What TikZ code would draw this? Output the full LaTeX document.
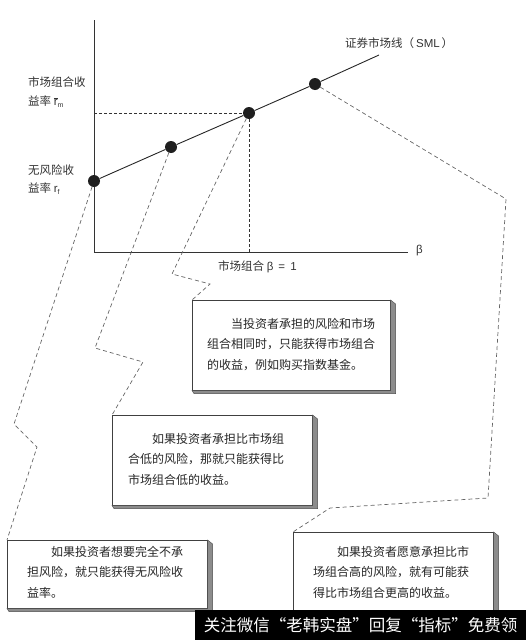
\documentclass[tikz,border=0pt]{standalone}
\usepackage{fontspec}
\setmainfont{Noto Sans CJK SC}
\newfontfamily\lat{Liberation Sans}
\usetikzlibrary{calc}
\begin{document}
\begin{tikzpicture}[x=1pt,y=-1pt,
  axisline/.style={draw=black!80, line width=0.9pt},
  smlline/.style={draw=black!85, line width=0.9pt},
  guide/.style={draw=black!80, line width=0.8pt, dash pattern=on 3pt off 2pt},
  conn/.style={draw=black!60, line width=0.7pt, dash pattern=on 4pt off 3pt},
  dotnode/.style={circle, fill=black!88, inner sep=0pt, minimum size=12pt},
  lbl/.style={font=\fontsize{11.5}{14}\selectfont, text=black!80, inner sep=0pt},
  cbox/.style={draw=black!75, fill=white, line width=0.6pt, anchor=north west, inner sep=0pt},
  cside/.style={fill=black!45, draw=black!70, line width=0.4pt},
  ctext/.style={anchor=north west, align=left, inner sep=0pt, text=black!85,
                font=\fontsize{12}{20.5}\selectfont},
]
\useasboundingbox (0,0) rectangle (526,640);

% axes
\coordinate (ytop) at (94,20);
\coordinate (orig) at (94,252);
\coordinate (xend) at (408,252);
\draw[axisline] (ytop) -- (orig) -- (xend);
\node[lbl, anchor=west] (beta) at (416,251) {\lat β};

% SML
\coordinate (smlend) at (379,55);
\node[dotnode] (rf) at (94,181) {};
\node[dotnode] (p2) at (171,147) {};
\node[dotnode] (pm) at (249,113) {};
\node[dotnode] (p4) at (315,84) {};
\draw[smlline] (rf) -- (p2) -- (pm) -- (p4) -- (smlend);
\node[lbl, anchor=west] (smllbl) at (345,43) {证券市场线（{\lat\,SML\,}）};

% guides to market portfolio
\coordinate (gy) at (94,113);
\coordinate (gx) at (249,252);
\draw[guide] (gy) -- (pm) -- (gx);

% axis labels
\node[lbl, anchor=west] (rm1) at (28,82) {市场组合收};
\node[lbl, anchor=west] (rm2) at (28,102) {益率 {\lat$\overline{\mbox{r}}$\fontsize{7}{7}\selectfont\raisebox{-2pt}{m}}};
\node[lbl, anchor=west] (rf1) at (28,170) {无风险收};
\node[lbl, anchor=west] (rf2) at (28,189) {益率 {\lat r\fontsize{7}{7}\selectfont\raisebox{-2pt}{f}}};
\node[lbl, anchor=west] (mlbl) at (218,267) {市场组合 {\lat β \,=\, 1}};

% boxes
\node[cbox, minimum width=198pt, minimum height=90pt] (b3) at (192,300) {};
\node[cbox, minimum width=200pt, minimum height=90pt] (b2) at (112,415) {};
\node[cbox, minimum width=200pt, minimum height=68pt] (b1) at (7,540) {};
\node[cbox, minimum width=200pt, minimum height=95pt] (b4) at (293,532) {};
\foreach \b in {b1,b2,b3,b4}{
  \filldraw[cside] (\b.north east) -- ++(5,4) -- ($(\b.south east)+(5,3)$)
     -- ($(\b.south west)+(2,3)$) -- (\b.south west) -- (\b.south east) -- cycle;
}

\node[ctext] (t3) at (207,318) {\hspace*{2em}当投资者承担的风险和市场\\组合相同时，只能获得市场组合\\的收益，例如购买指数基金。};
\node[ctext] (t2) at (128,433) {\hspace*{2em}如果投资者承担比市场组\\合低的风险，那就只能获得比\\市场组合低的收益。};
\node[ctext] (t1) at (27,546) {\hspace*{2em}如果投资者想要完全不承\\担风险，就只能获得无风险收\\益率。};
\node[ctext] (t4) at (313,546) {\hspace*{2em}如果投资者愿意承担比市\\场组合高的风险，就有可能获\\得比市场组合更高的收益。};

% connectors
\coordinate (c1a) at (14,424);
\coordinate (c1b) at (37,447);
\draw[conn] (rf) -- (c1a) -- (c1b) -- (b1.north west);
\coordinate (c2a) at (95,348);
\coordinate (c2b) at (143,362);
\draw[conn] (p2) -- (c2a) -- (c2b) -- (b2.north west);
\coordinate (c3a) at (172,274);
\coordinate (c3b) at (210,284);
\draw[conn] (pm) -- (c3a) -- (c3b) -- (b3.north west);
\coordinate (c4a) at (506,199);
\coordinate (c4b) at (488,498);
\coordinate (c4c) at (330,508);
\draw[conn] (p4) -- (c4a) -- (c4b) -- (c4c) -- (b4.north west);

% watermark bar
\node[fill=black, text=white, anchor=north west, inner sep=0pt,
      minimum width=331pt, minimum height=30pt,
      font=\fontsize{16.5}{16.5}\selectfont] (wm) at (195,610) {关注微信“老韩实盘”回复“指标”免费领};
\end{tikzpicture}
\end{document}
